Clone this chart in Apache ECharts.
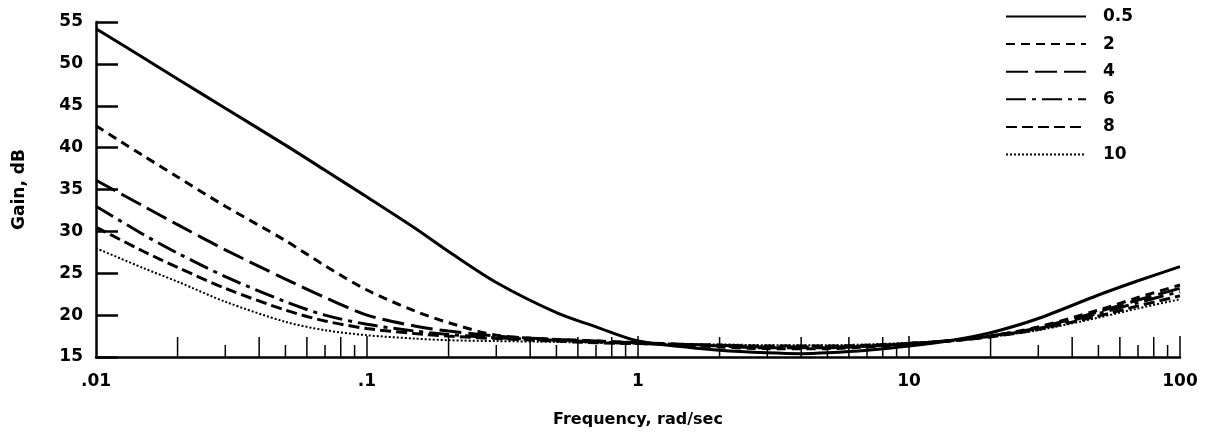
<!DOCTYPE html>
<html><head><meta charset="utf-8">
<script src="https://cdn.jsdelivr.net/npm/echarts@6/dist/echarts.min.js"></script>
<style>html,body{margin:0;padding:0;background:#fff}#c{width:1207px;height:435px}</style>
</head><body><div id="c"></div>
<script>
const freq = [0.01,0.015,0.02,0.03,0.05,0.07,0.1,0.15,0.2,0.3,0.5,0.7,1,1.5,2,3,4,5,7,10,15,20,30,50,70,100];
const g05 = [54.2,50.7,48.2,44.7,40.3,37.3,34.1,30.4,27.6,23.9,20.3,18.6,16.9,16.2,15.8,15.5,15.4,15.5,15.8,16.3,17.1,17.9,19.6,22.4,24.1,25.8];
const g2  = [42.6,39.0,36.5,33.0,28.9,25.9,23.0,20.5,19.1,17.6,17.1,16.9,16.7,16.4,16.2,16.0,16.0,16.0,16.2,16.5,17.0,17.5,18.6,20.6,22.1,23.6];
const g4  = [36.1,33.0,30.8,27.8,24.3,22.1,20.0,18.7,18.1,17.5,17.1,16.9,16.7,16.5,16.3,16.1,16.1,16.1,16.3,16.6,17.0,17.5,18.5,20.4,21.8,23.2];
const g6  = [33.0,29.6,27.4,24.6,21.6,20.0,18.9,18.1,17.7,17.3,17.0,16.8,16.6,16.5,16.4,16.2,16.2,16.2,16.3,16.6,17.0,17.5,18.4,20.2,21.5,22.8];
const g8  = [30.5,27.6,25.7,23.2,20.6,19.3,18.4,17.8,17.5,17.2,16.9,16.7,16.6,16.5,16.4,16.3,16.3,16.3,16.4,16.6,17.0,17.4,18.3,19.9,21.1,22.3];
const g10 = [28.0,25.6,24.0,21.6,19.2,18.2,17.6,17.2,17.0,16.9,16.8,16.7,16.6,16.5,16.5,16.4,16.4,16.4,16.5,16.7,17.0,17.4,18.2,19.7,20.8,21.9];
const seriesNames = ['0.5','2','4','6','8','10'];
const xTickLabels = {0.01:'.01',0.1:'.1',1:'1',10:'10',100:'100'};
const yTicks = [15,20,25,30,35,40,45,50,55];
// minor tick positions on log axis (2..9 per decade) and majors
const minorMult = [2,3,4,5,6,7,8,9];
const decades = [0.01,0.1,1,10];
const majorTicks = [0.1,1,10,100];

const FONT = '"DejaVu Sans", Arial, sans-serif';
const tickData = [];
decades.forEach(d => minorMult.forEach(m => tickData.push([+(d*m).toPrecision(3), m % 2 === 0 ? 20 : 12])));
majorTicks.forEach(v => tickData.push([v, 21]));

const styles = [
  {width:3, type:'solid'},
  {width:3, type:[9,6]},
  {width:3, type:[22,7]},
  {width:3, type:[20,6,4,6]},
  {width:3, type:[11,5]},
  {width:2, type:[2,2]}
];
const vals = [g05,g2,g4,g6,g8,g10];
const lineSeries = vals.map((arr,i) => ({
  name: seriesNames[i], type:'line', smooth:0.3, showSymbol:false, symbol:'none',
  data: freq.map((f,j)=>[f,arr[j]]),
  lineStyle:{color:'#000', width:styles[i].width, type:styles[i].type, cap:'butt'},
  itemStyle:{color:'#000'}, z:3
}));

const chart = echarts.init(document.getElementById('c'), null, {renderer:'canvas'});
chart.setOption({
  animation:false,
  grid:{left:96, right:27, top:22, bottom:78},
  legend:{
    data: seriesNames, orient:'vertical', left:1000, top:3, itemWidth:80, itemHeight:14, itemGap:10.6,
    itemStyle:{opacity:0},
    textStyle:{fontFamily:FONT, fontWeight:'bold', fontSize:17, color:'#000', padding:[0,0,0,12]}
  },
  xAxis:{
    type:'log', logBase:10, min:0.01, max:100,
    name:'Frequency, rad/sec', nameLocation:'middle', nameGap:55,
    nameTextStyle:{fontFamily:FONT, fontWeight:'bold', fontSize:16, color:'#000'},
    axisLine:{lineStyle:{color:'#000', width:2.5}},
    axisTick:{show:false},
    splitLine:{show:false},
    axisLabel:{fontFamily:FONT, fontWeight:'bold', fontSize:17, color:'#000', margin:16,
      formatter: v => xTickLabels[+v.toPrecision(3)] || ''}
  },
  yAxis:{
    type:'value', min:15, max:55, interval:5,
    name:'Gain, dB', nameLocation:'middle', nameGap:68, nameRotate:90,
    nameTextStyle:{fontFamily:FONT, fontWeight:'bold', fontSize:17, color:'#000'},
    axisLine:{show:true, lineStyle:{color:'#000', width:2.5}},
    axisTick:{show:true, inside:true, length:22, lineStyle:{color:'#000', width:2.5}},
    splitLine:{show:false},
    axisLabel:{fontFamily:FONT, fontWeight:'bold', fontSize:17, color:'#000', margin:13,
      formatter: v => yTicks.indexOf(v) >= 0 ? String(v) : ''}
  },
  series: lineSeries.concat([{
    type:'custom', silent:true, z:2, data: tickData,
    encode:{x:0, y:-1},
    renderItem:(params, api) => {
      const p = api.coord([api.value(0), 15]);
      const len = api.value(1);
      return {type:'line', shape:{x1:p[0], y1:p[1], x2:p[0], y2:p[1]-len},
        style:{stroke:'#000', lineWidth:1.5}};
    }
  }])
});
</script>
</body></html>
